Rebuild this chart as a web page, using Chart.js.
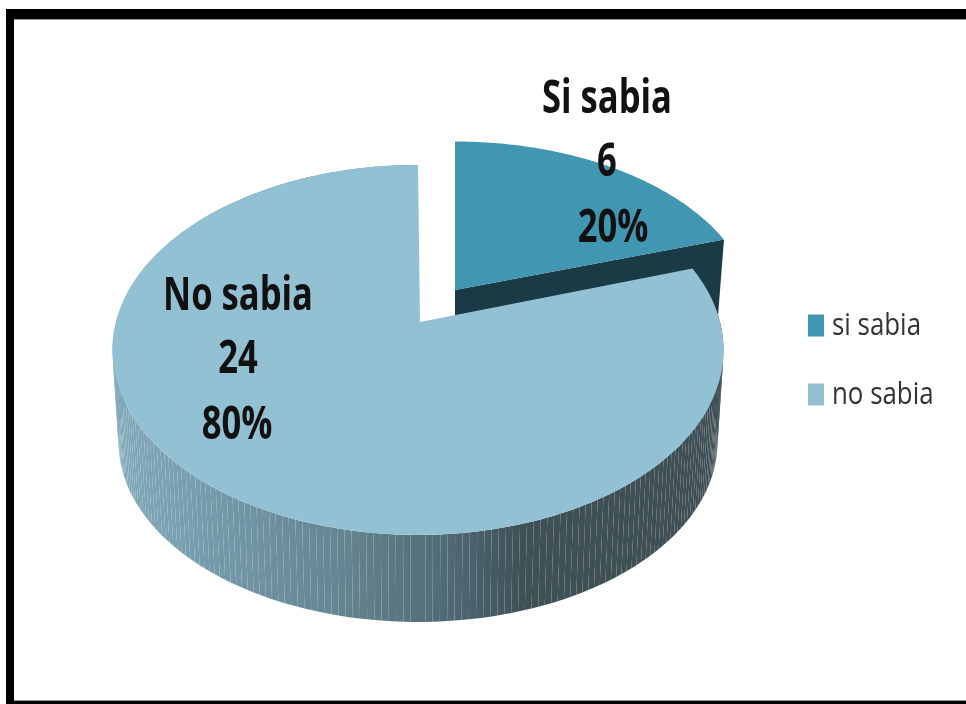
<!DOCTYPE html>
<html>
<head>
<meta charset="utf-8">
<style>html,body{margin:0;padding:0;background:#fff;overflow:hidden}canvas{display:block}</style>
<script src="https://cdn.jsdelivr.net/npm/chart.js@4"></script>
</head>
<body>
<canvas id="c" width="966" height="704"></canvas>
<script>
const categories = ['si sabia', 'no sabia'];
const labelNames = ['Si sabia', 'No sabia'];
const values = [6, 24];
const sliceColors = ['#4197b1', '#92c1d3'];

// perspective views of the unit disc (style only, no data)
const K = -0.151;
const views = {
  si:      {cx: 455, cy: 290, a: 170.9, b: 296},
  no:      {cx: 418, cy: 322, a: 180.8, b: 302},
  noFloor: {cx: 418, cy: 415, a: 175.7, b: 296}
};
const apexX = 420;
const labelSpots = [
  {xs: [607, 607, 613], ys: [100, 163, 229]},
  {xs: [238, 238, 237], ys: [297, 360, 426]}
];
const legendSpots = {box: 808, text: 832, ys: [325.5, 394.5]};

function project(angle, v) {
  const u = Math.cos(angle), w = Math.sin(angle), d = 1 + K * w;
  return [v.cx + v.b * u / d, v.cy + v.a * w / d];
}
function rim(ctx, start, end, v, first) {
  const n = 160;
  for (let i = 0; i <= n; i++) {
    const p = project(start + (end - start) * i / n, v);
    if (first && i === 0) ctx.moveTo(p[0], p[1]); else ctx.lineTo(p[0], p[1]);
  }
}
function condensed(ctx, str, x, y, font, sx, align) {
  ctx.save();
  ctx.font = font;
  ctx.textBaseline = 'middle';
  ctx.textAlign = align;
  ctx.translate(x, y);
  ctx.scale(sx, 1);
  ctx.fillText(str, 0, 0);
  ctx.restore();
}

const pie3d = {
  id: 'pie3d',
  beforeDraw(chart) {
    const ctx = chart.ctx;
    ctx.save();
    ctx.fillStyle = '#fff';
    ctx.fillRect(0, 0, 966, 704);
    ctx.fillStyle = '#000';
    ctx.fillRect(6, 9, 960, 10);
    ctx.fillRect(6, 9, 8, 695);
    ctx.fillRect(6, 701, 960, 3);
    ctx.fillStyle = '#999';
    ctx.fillRect(14, 19, 952, 1);
    ctx.fillRect(14, 700, 952, 1);
    ctx.restore();
  },
  beforeDatasetsDraw(chart) {
    const ctx = chart.ctx;
    const arcs = chart.getDatasetMeta(0).data;
    const si = arcs[0], no = arcs[1];
    ctx.save();
    // wall of the pulled-out slice
    const end = project(si.endAngle, views.si);
    ctx.fillStyle = '#1a3a46';
    ctx.beginPath();
    ctx.moveTo(views.si.cx, views.si.cy);
    ctx.lineTo(end[0], end[1]);
    ctx.lineTo(end[0] - 7, end[1] + 90);
    ctx.lineTo(views.si.cx, views.si.cy + 25);
    ctx.closePath();
    ctx.fill();
    // top of the pulled-out slice
    ctx.fillStyle = si.options.backgroundColor;
    ctx.beginPath();
    ctx.moveTo(views.si.cx, views.si.cy);
    rim(ctx, si.startAngle, si.endAngle, views.si, false);
    ctx.closePath();
    ctx.fill();
    // side of the big slice, swept from the top rim down to the floor rim
    const g = ctx.createLinearGradient(111, 0, 723, 0);
    g.addColorStop(0, '#80a9ba');
    g.addColorStop(0.12, '#789fb0');
    g.addColorStop(0.39, '#63838f');
    g.addColorStop(0.55, '#4f6a76');
    g.addColorStop(0.67, '#3f5157');
    g.addColorStop(1, '#3d4e55');
    ctx.fillStyle = g;
    const steps = 240;
    for (let i = 0; i < steps; i++) {
      const a0 = no.startAngle + (no.endAngle - no.startAngle) * i / steps;
      const a1 = no.startAngle + (no.endAngle - no.startAngle) * (i + 1) / steps;
      const p = [project(a0, views.no), project(a1, views.no), project(a1, views.noFloor), project(a0, views.noFloor)];
      ctx.beginPath();
      ctx.moveTo(p[0][0], p[0][1]);
      for (let j = 1; j < 4; j++) ctx.lineTo(p[j][0], p[j][1]);
      ctx.closePath();
      ctx.fill();
    }
    // top of the big slice
    ctx.fillStyle = no.options.backgroundColor;
    ctx.beginPath();
    ctx.moveTo(apexX, views.no.cy);
    rim(ctx, no.startAngle, no.endAngle, views.no, false);
    ctx.closePath();
    ctx.fill();
    ctx.restore();
    return false;
  },
  afterDraw(chart) {
    const ctx = chart.ctx;
    const total = values.reduce((s, x) => s + x, 0);
    // data labels
    ctx.save();
    ctx.fillStyle = '#111';
    const bold = 'bold 46px "Open Sans"';
    ctx.font = bold;
    const sx = 130 / ctx.measureText(labelNames[0]).width;
    values.forEach((val, i) => {
      const lines = [labelNames[i], String(val), Math.round(val / total * 100) + '%'];
      lines.forEach((t, j) => condensed(ctx, t, labelSpots[i].xs[j], labelSpots[i].ys[j], bold, sx, 'center'));
    });
    // legend
    const reg = '31px "Open Sans"';
    ctx.font = reg;
    const lx = 89 / ctx.measureText(categories[0]).width;
    const items = Chart.overrides.pie.plugins.legend.labels.generateLabels(chart);
    items.forEach((it, i) => {
      const y = legendSpots.ys[i];
      ctx.fillStyle = it.fillStyle;
      ctx.fillRect(legendSpots.box, y - 11, 16, 22);
      ctx.fillStyle = '#333';
      condensed(ctx, it.text, legendSpots.text, y + 1, reg, lx, 'left');
    });
    ctx.restore();
  }
};

new Chart(document.getElementById('c'), {
  type: 'pie',
  data: {
    labels: categories,
    datasets: [{data: values, backgroundColor: sliceColors, borderWidth: 0}]
  },
  options: {
    responsive: false,
    animation: false,
    plugins: {legend: {display: false}, tooltip: {enabled: false}}
  },
  plugins: [pie3d]
});
</script>
</body>
</html>
